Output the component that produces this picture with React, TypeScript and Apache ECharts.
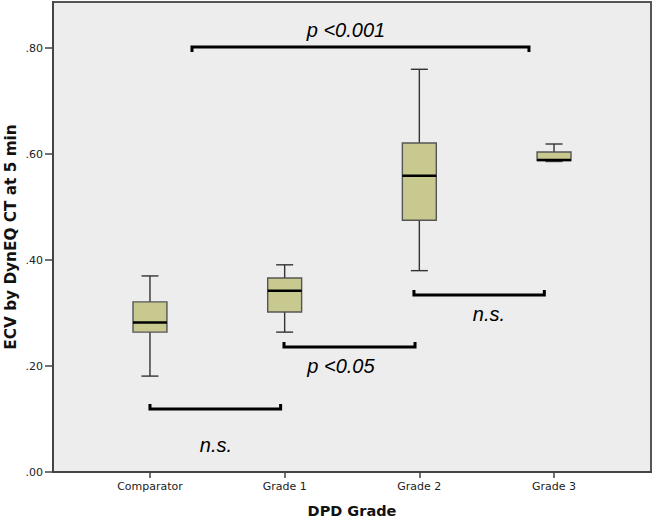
import React, { useEffect, useRef } from "react";
import * as echarts from "echarts";

// ---- data ----
const categories = ["Comparator", "Grade 1", "Grade 2", "Grade 3"];
const categoryPos = [1, 2, 3, 4];
const whiskerLow = [0.181, 0.264, 0.38, 0.586];
const q1 = [0.264, 0.302, 0.475, 0.588];
const median = [0.282, 0.342, 0.559, 0.589];
const q3 = [0.321, 0.366, 0.621, 0.604];
const whiskerHigh = [0.37, 0.391, 0.76, 0.619];

const yTicks = [0, 0.2, 0.4, 0.6, 0.8];

// significance brackets (data coordinates)
const bracketStart = [1.0, 1.995, 2.96, 1.312];
const bracketEnd = [1.97, 2.968, 3.928, 3.814];
const bracketLevel = [0.119, 0.236, 0.334, 0.802];
const bracketEndsUp = [true, true, true, false];
const bracketLabels = ["n.s.", "p <0.05", "n.s.", "p <0.001"];
const labelX = [1.49, 2.418, 3.517, 2.455];
const labelY = [0.051, 0.2, 0.298, 0.834];

export default function App() {
  const ref = useRef<HTMLDivElement>(null);
  useEffect(() => {
    if (!ref.current) return;
    const chart = echarts.init(ref.current, null, { renderer: "svg" });
    const boxData = categoryPos.map((x, i) => [
      x,
      whiskerLow[i],
      q1[i],
      median[i],
      q3[i],
      whiskerHigh[i],
    ]);
    const bracketData = bracketStart.map((s, i) => [
      s,
      bracketEnd[i],
      bracketLevel[i],
      bracketEndsUp[i] ? 1 : -1,
      labelX[i],
      labelY[i],
      i,
    ]);
    const fmtY = (v: number) => v.toFixed(2).replace(/^0/, "");
    chart.setOption({
      animation: false,
      grid: {
        left: 53,
        top: 2,
        width: 598,
        height: 470,
        show: true,
        containLabel: false,
        outerBoundsMode: "none",
        backgroundColor: "#EDEDED",
        borderColor: "#555555",
        borderWidth: 2,
      },
      xAxis: {
        type: "value",
        min: 0.28,
        max: 4.72,
        name: "DPD Grade",
        nameLocation: "middle",
        nameGap: 31,
        nameTextStyle: {
          fontFamily: "DejaVu Sans",
          fontWeight: "bold",
          fontSize: 14.5,
          color: "#111",
        },
        splitLine: { show: false },
        axisLine: { show: true, lineStyle: { color: "#444", width: 2 } },
        axisTick: {
          show: true,
          customValues: categoryPos,
          length: 6,
          lineStyle: { color: "#444", width: 1.5 },
        },
        axisLabel: {
          customValues: categoryPos,
          formatter: (v: number) => categories[Math.round(v) - 1] ?? "",
          fontFamily: "DejaVu Sans",
          fontSize: 11,
          color: "#222",
          margin: 9,
        },
      },
      yAxis: {
        type: "value",
        min: 0,
        max: 0.887,
        name: "ECV by DynEQ CT at 5 min",
        nameLocation: "middle",
        nameGap: 35,
        nameMoveOverlap: false,
        nameTextStyle: {
          fontFamily: "DejaVu Sans",
          fontWeight: "bold",
          fontSize: 15.3,
          color: "#111",
        },
        splitLine: { show: false },
        axisLine: { show: true, lineStyle: { color: "#444", width: 2 } },
        axisTick: {
          show: true,
          customValues: yTicks,
          length: 8,
          lineStyle: { color: "#444", width: 1.5 },
        },
        axisLabel: {
          customValues: yTicks,
          formatter: fmtY,
          fontFamily: "DejaVu Sans",
          fontSize: 11,
          color: "#222",
          margin: 10,
        },
      },
      series: [
        {
          type: "custom",
          name: "box",
          data: boxData,
          renderItem: (params: any, api: any) => {
            const x = api.value(0);
            const lo = api.coord([x, api.value(1)]);
            const b1 = api.coord([x, api.value(2)]);
            const md = api.coord([x, api.value(3)]);
            const b3 = api.coord([x, api.value(4)]);
            const hi = api.coord([x, api.value(5)]);
            const half = api.size([0.126, 0])[0];
            const cap = half / 2;
            const cx = lo[0];
            const wStyle = { stroke: "#333", lineWidth: 1.4 };
            return {
              type: "group",
              children: [
                { type: "line", shape: { x1: cx, y1: hi[1], x2: cx, y2: b3[1] }, style: wStyle },
                { type: "line", shape: { x1: cx, y1: b1[1], x2: cx, y2: lo[1] }, style: wStyle },
                { type: "line", shape: { x1: cx - cap, y1: hi[1], x2: cx + cap, y2: hi[1] }, style: wStyle },
                { type: "line", shape: { x1: cx - cap, y1: lo[1], x2: cx + cap, y2: lo[1] }, style: wStyle },
                {
                  type: "rect",
                  shape: { x: cx - half, y: b3[1], width: half * 2, height: b1[1] - b3[1] },
                  style: { fill: "#C8C98F", stroke: "#555", lineWidth: 1.4 },
                },
                {
                  type: "line",
                  shape: { x1: cx - half, y1: md[1], x2: cx + half, y2: md[1] },
                  style: { stroke: "#000", lineWidth: 2.5 },
                },
              ],
            };
          },
        },
        {
          type: "custom",
          name: "brackets",
          data: bracketData,
          renderItem: (params: any, api: any) => {
            const p1 = api.coord([api.value(0), api.value(2)]);
            const p2 = api.coord([api.value(1), api.value(2)]);
            const dir = api.value(3);
            const tick = 5 * dir;
            const t = api.coord([api.value(4), api.value(5)]);
            const idx = api.value(6);
            return {
              type: "group",
              children: [
                {
                  type: "polyline",
                  shape: {
                    points: [
                      [p1[0], p1[1] - tick],
                      [p1[0], p1[1]],
                      [p2[0], p2[1]],
                      [p2[0], p2[1] - tick],
                    ],
                  },
                  style: { stroke: "#000", lineWidth: 3, fill: null },
                },
                {
                  type: "text",
                  x: t[0],
                  y: t[1],
                  style: {
                    text: bracketLabels[idx],
                    fontFamily: "Liberation Sans",
                    fontStyle: "italic",
                    fontSize: 20,
                    fill: "#000",
                    align: "center",
                    verticalAlign: "middle",
                  },
                },
              ],
            };
          },
        },
      ],
    });
    return () => chart.dispose();
  }, []);
  return (
    <div
      ref={ref}
      style={{ position: "fixed", left: 0, top: 0, width: 653, height: 518, background: "#fff" }}
    />
  );
}
